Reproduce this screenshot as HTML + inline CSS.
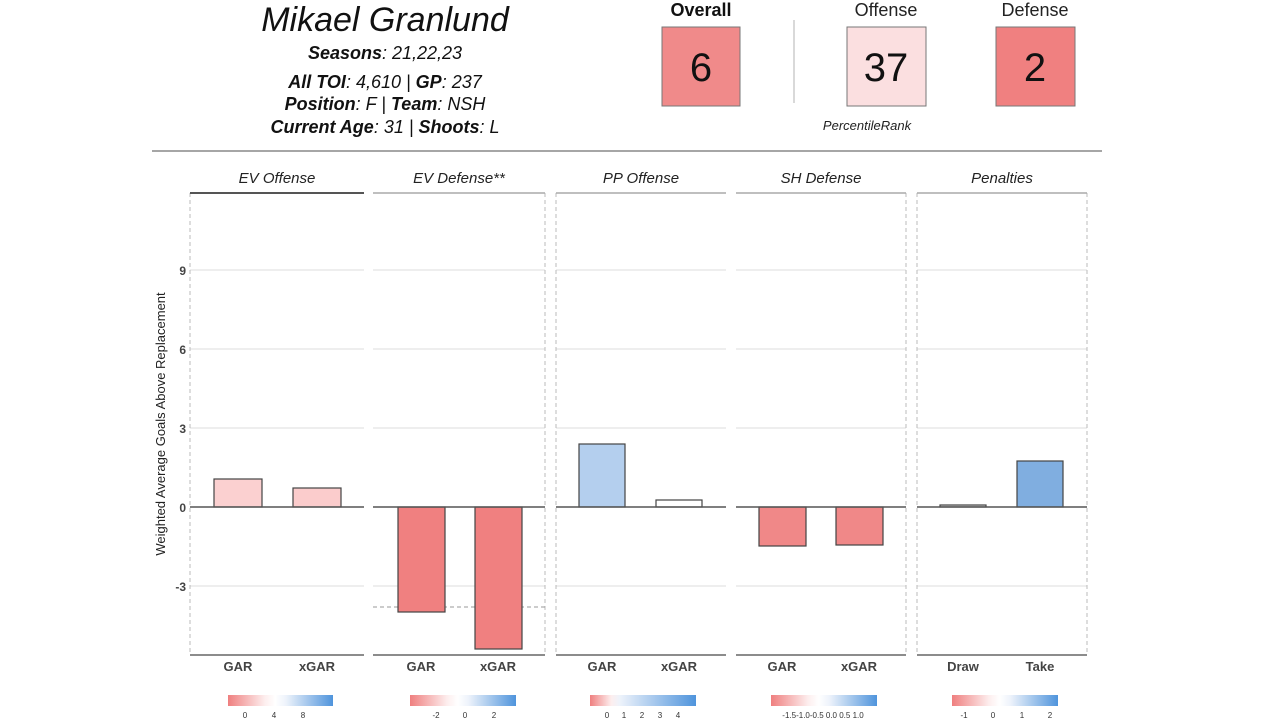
<!DOCTYPE html>
<html><head><meta charset="utf-8"><style>
body{margin:0;background:#fff;}
svg{display:block;font-family:"Liberation Sans","DejaVu Sans",sans-serif;}
</style></head><body>
<svg width="1280" height="720" viewBox="0 0 1280 720">
<defs>
<linearGradient id="g1" x1="0" x2="1"><stop offset="0" stop-color="#ef7f7f"/><stop offset="0.35" stop-color="#fdeeee"/><stop offset="0.45" stop-color="#fff"/><stop offset="0.55" stop-color="#eef3fb"/><stop offset="1" stop-color="#4f94dc"/></linearGradient>
<linearGradient id="g3" x1="0" x2="1"><stop offset="0" stop-color="#ef7f7f"/><stop offset="0.2" stop-color="#fdeeee"/><stop offset="0.28" stop-color="#eef3fb"/><stop offset="1" stop-color="#4f94dc"/></linearGradient>
</defs>
<!-- header -->
<text x="385" y="31" font-size="34" font-style="italic" text-anchor="middle" fill="#111">Mikael Granlund</text>
<g font-size="18" font-style="italic" text-anchor="middle" fill="#111">
<text x="385" y="59"><tspan font-weight="bold">Seasons</tspan>: 21,22,23</text>
<text x="385" y="88"><tspan font-weight="bold">All TOI</tspan>: 4,610 | <tspan font-weight="bold">GP</tspan>: 237</text>
<text x="385" y="110"><tspan font-weight="bold">Position</tspan>: F | <tspan font-weight="bold">Team</tspan>: NSH</text>
<text x="385" y="133"><tspan font-weight="bold">Current Age</tspan>: 31 | <tspan font-weight="bold">Shoots</tspan>: L</text>
</g>
<text x="701" y="16" font-size="18" font-weight="bold" text-anchor="middle" fill="#111">Overall</text>
<text x="886" y="16" font-size="18" text-anchor="middle" fill="#222">Offense</text>
<text x="1035" y="16" font-size="18" text-anchor="middle" fill="#222">Defense</text>
<rect x="662" y="27" width="78" height="79" fill="#f08a8a" stroke="#777"/>
<rect x="847" y="27" width="79" height="79" fill="#fbdfe0" stroke="#777"/>
<rect x="996" y="27" width="79" height="79" fill="#f08080" stroke="#777"/>
<text x="701" y="81" font-size="40" text-anchor="middle" fill="#111">6</text>
<text x="886" y="81" font-size="40" text-anchor="middle" fill="#111">37</text>
<text x="1035" y="81" font-size="40" text-anchor="middle" fill="#111">2</text>
<line x1="794" y1="20" x2="794" y2="103" stroke="#ccc" stroke-width="1.5"/>
<text x="867" y="130" font-size="13" font-style="italic" text-anchor="middle" fill="#222">PercentileRank</text>
<line x1="152" y1="151" x2="1102" y2="151" stroke="#888" stroke-width="1.5"/>
<!-- y axis -->
<text transform="translate(165,424) rotate(-90)" font-size="13" text-anchor="middle" fill="#222">Weighted Average Goals Above Replacement</text>
<g font-size="12" fill="#444" text-anchor="end" font-weight="bold">
<text x="186" y="275">9</text><text x="186" y="354">6</text><text x="186" y="433">3</text><text x="186" y="512">0</text><text x="186" y="591">-3</text>
</g>
<!-- panels -->
<g stroke="#ddd" stroke-width="1">
<line x1="190" x2="364" y1="270" y2="270"/><line x1="190" x2="364" y1="349" y2="349"/><line x1="190" x2="364" y1="428" y2="428"/><line x1="190" x2="364" y1="586" y2="586"/>
<line x1="373" x2="545" y1="270" y2="270"/><line x1="373" x2="545" y1="349" y2="349"/><line x1="373" x2="545" y1="428" y2="428"/><line x1="373" x2="545" y1="586" y2="586"/>
<line x1="556" x2="726" y1="270" y2="270"/><line x1="556" x2="726" y1="349" y2="349"/><line x1="556" x2="726" y1="428" y2="428"/><line x1="556" x2="726" y1="586" y2="586"/>
<line x1="736" x2="906" y1="270" y2="270"/><line x1="736" x2="906" y1="349" y2="349"/><line x1="736" x2="906" y1="428" y2="428"/><line x1="736" x2="906" y1="586" y2="586"/>
<line x1="917" x2="1087" y1="270" y2="270"/><line x1="917" x2="1087" y1="349" y2="349"/><line x1="917" x2="1087" y1="428" y2="428"/><line x1="917" x2="1087" y1="586" y2="586"/>
</g>
<g stroke="#bbb" stroke-dasharray="4,3" stroke-width="1">
<line x1="190" x2="190" y1="193" y2="655"/><line x1="545" x2="545" y1="193" y2="655"/>
<line x1="556" x2="556" y1="193" y2="655"/><line x1="906" x2="906" y1="193" y2="655"/>
<line x1="917" x2="917" y1="193" y2="655"/><line x1="1087" x2="1087" y1="193" y2="655"/>
<line x1="373" x2="545" y1="607" y2="607" stroke="#999"/>
</g>
<!-- strip titles -->
<g font-size="15" font-style="italic" text-anchor="middle" fill="#222">
<text x="277" y="183">EV Offense</text><text x="459" y="183">EV Defense**</text><text x="641" y="183">PP Offense</text><text x="821" y="183">SH Defense</text><text x="1002" y="183">Penalties</text>
</g>
<g stroke="#aaa" stroke-width="1.5">
<line x1="373" x2="545" y1="193" y2="193"/><line x1="556" x2="726" y1="193" y2="193"/><line x1="736" x2="906" y1="193" y2="193"/><line x1="917" x2="1087" y1="193" y2="193"/>
</g>
<line x1="190" x2="364" y1="193" y2="193" stroke="#555" stroke-width="2"/>
<!-- bars -->
<g stroke="#444" stroke-width="1.2">
<rect x="214" y="479" width="48" height="28" fill="#fbd0d0"/>
<rect x="293" y="488" width="48" height="19" fill="#fbcccc"/>
<rect x="398" y="507" width="47" height="105" fill="#f08080"/>
<rect x="475" y="507" width="47" height="142" fill="#f08080"/>
<rect x="579" y="444" width="46" height="63" fill="#b4cfee"/>
<rect x="656" y="500" width="46" height="7" fill="#fff"/>
<rect x="759" y="507" width="47" height="39" fill="#f08888"/>
<rect x="836" y="507" width="47" height="38" fill="#f08888"/>
<rect x="940" y="505" width="46" height="2" fill="#ddd"/>
<rect x="1017" y="461" width="46" height="46" fill="#80aee0"/>
</g>
<g stroke="#555" stroke-width="1.5">
<line x1="190" x2="364" y1="507" y2="507"/><line x1="373" x2="545" y1="507" y2="507"/><line x1="556" x2="726" y1="507" y2="507"/><line x1="736" x2="906" y1="507" y2="507"/><line x1="917" x2="1087" y1="507" y2="507"/>
</g>
<g stroke="#666" stroke-width="1.5">
<line x1="190" x2="364" y1="655" y2="655"/><line x1="373" x2="545" y1="655" y2="655"/><line x1="556" x2="726" y1="655" y2="655"/><line x1="736" x2="906" y1="655" y2="655"/><line x1="917" x2="1087" y1="655" y2="655"/>
</g>
<!-- x labels -->
<g font-size="13" font-weight="bold" text-anchor="middle" fill="#444">
<text x="238" y="671">GAR</text><text x="317" y="671">xGAR</text>
<text x="421" y="671">GAR</text><text x="498" y="671">xGAR</text>
<text x="602" y="671">GAR</text><text x="679" y="671">xGAR</text>
<text x="782" y="671">GAR</text><text x="859" y="671">xGAR</text>
<text x="963" y="671">Draw</text><text x="1040" y="671">Take</text>
</g>
<!-- legends -->
<rect x="228" y="695" width="105" height="11" fill="url(#g1)"/>
<rect x="410" y="695" width="106" height="11" fill="url(#g1)"/>
<rect x="590" y="695" width="106" height="11" fill="url(#g3)"/>
<rect x="771" y="695" width="106" height="11" fill="url(#g1)"/>
<rect x="952" y="695" width="106" height="11" fill="url(#g1)"/>
<g font-size="8" text-anchor="middle" fill="#333">
<text x="245" y="718">0</text><text x="274" y="718">4</text><text x="303" y="718">8</text>
<text x="436" y="718">-2</text><text x="465" y="718">0</text><text x="494" y="718">2</text>
<text x="607" y="718">0</text><text x="624" y="718">1</text><text x="642" y="718">2</text><text x="660" y="718">3</text><text x="678" y="718">4</text>
<text x="823" y="718">-1.5-1.0-0.5 0.0 0.5 1.0</text>
<text x="964" y="718">-1</text><text x="993" y="718">0</text><text x="1022" y="718">1</text><text x="1050" y="718">2</text>
</g>
</svg>
</body></html>
